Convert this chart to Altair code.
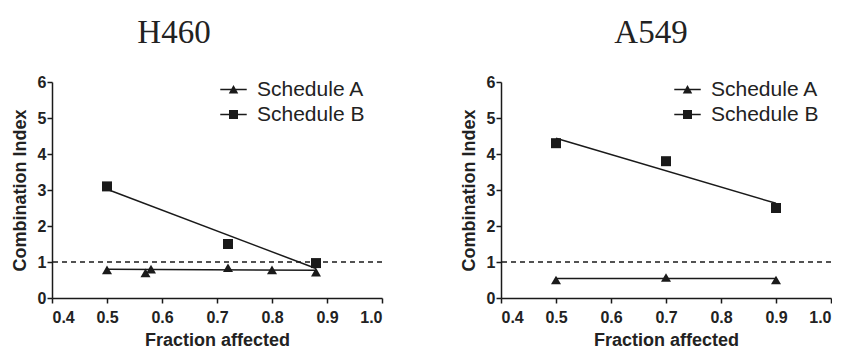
import altair as alt
import pandas as pd

# ---------------- data ----------------
series_names = ["Schedule A", "Schedule B"]
x_ticks = [0.4, 0.5, 0.6, 0.7, 0.8, 0.9, 1.0]
y_ticks = [0, 1, 2, 3, 4, 5, 6]
reference_ci = [1.0]

# H460
h460_a_x = [0.50, 0.57, 0.58, 0.72, 0.80, 0.88]
h460_a_y = [0.78, 0.70, 0.80, 0.84, 0.78, 0.72]
h460_b_x = [0.50, 0.72, 0.88]
h460_b_y = [3.10, 1.50, 0.97]
h460_fit_a_x = [0.50, 0.88]
h460_fit_a_y = [0.80, 0.77]
h460_fit_b_x = [0.50, 0.88]
h460_fit_b_y = [3.02, 0.82]

# A549
a549_a_x = [0.50, 0.70, 0.90]
a549_a_y = [0.50, 0.57, 0.50]
a549_b_x = [0.50, 0.70, 0.90]
a549_b_y = [4.30, 3.80, 2.50]
a549_fit_a_x = [0.50, 0.90]
a549_fit_a_y = [0.54, 0.54]
a549_fit_b_x = [0.50, 0.90]
a549_fit_b_y = [4.44, 2.63]

# legend symbols: short line with marker (all filled sub-paths)
legend_paths = [
    "M-1,-0.055H1V0.055H-1ZM-0.36,0.3L0,-0.34L0.36,0.3Z",
    "M-1,-0.055H1V0.055H-1ZM-0.34,-0.34H0.34V0.34H-0.34Z",
]
marker_shapes = ["triangle-up", "square"]

INK = "#1a1a1a"
LAB = "#222222"
SANS = "Liberation Sans"


def frame(xs_a, ys_a, xs_b, ys_b):
    return pd.concat([
        pd.DataFrame({"x": xs_a, "y": ys_a, "series": series_names[0]}),
        pd.DataFrame({"x": xs_b, "y": ys_b, "series": series_names[1]}),
    ], ignore_index=True)


x_axis = alt.Axis(values=x_ticks, format=".1f", title="Fraction affected",
                  labelFont=SANS, labelFontSize=16, labelFontWeight="bold",
                  labelColor=LAB, labelPadding=6, labelOverlap=False,
                  titleFont=SANS, titleFontSize=18, titleFontWeight="bold",
                  titleColor=LAB, titlePadding=6)
y_axis = alt.Axis(values=y_ticks, format="d", title="Combination Index",
                  labelFont=SANS, labelFontSize=16, labelFontWeight="bold",
                  labelColor=LAB, labelPadding=1, labelOverlap=False,
                  titleFont=SANS, titleFontSize=18, titleFontWeight="bold",
                  titleColor=LAB, titlePadding=8)
x_scale = alt.Scale(domain=[0.4, 1.0], nice=False, zero=False)
y_scale = alt.Scale(domain=[0, 6], nice=False)


def panel(title, pts, fit, title_dx, legend_x):
    x = alt.X("x:Q", scale=x_scale, axis=x_axis)
    y = alt.Y("y:Q", scale=y_scale, axis=y_axis)

    lines = alt.Chart(fit).mark_line(color=INK, strokeWidth=1.5).encode(
        x=x, y=y, detail="series:N")

    ref = alt.Chart(pd.DataFrame({"y": reference_ci})).mark_rule(
        color=INK, strokeWidth=1.5, strokeDash=[5, 4]
    ).encode(y=y)

    points = alt.Chart(pts).mark_point(filled=True, color=INK, size=100, opacity=1).encode(
        x=x, y=y,
        shape=alt.Shape("series:N",
                        scale=alt.Scale(domain=series_names, range=marker_shapes),
                        legend=None))

    leg = alt.Chart(pts).transform_filter("false").mark_point(
        filled=True, color=INK, opacity=1
    ).encode(
        x=x, y=y,
        shape=alt.Shape("series:N",
                        scale=alt.Scale(domain=series_names, range=legend_paths),
                        legend=alt.Legend(
                            title=None, orient="none", legendX=legend_x, legendY=-6,
                            symbolSize=700, symbolFillColor=INK, symbolOpacity=1,
                            symbolStrokeWidth=0,
                            labelFont=SANS, labelFontSize=21,
                            labelColor=LAB, labelOffset=10, rowPadding=1,
                            padding=0)))

    return alt.layer(lines, ref, points, leg).resolve_scale(shape="independent").properties(
        width=330, height=216,
        title=alt.TitleParams(title, font="Liberation Serif", fontSize=33,
                              fontWeight="normal", color=LAB, frame="group",
                              anchor="middle", dx=title_dx, offset=24),
    )


left = panel("H460", frame(h460_a_x, h460_a_y, h460_b_x, h460_b_y),
             frame(h460_fit_a_x, h460_fit_a_y, h460_fit_b_x, h460_fit_b_y), -43, 168)
right = panel("A549", frame(a549_a_x, a549_a_y, a549_b_x, a549_b_y),
              frame(a549_fit_a_x, a549_fit_a_y, a549_fit_b_x, a549_fit_b_y), -15, 173)

chart = alt.hconcat(left, right, spacing=77).properties(
    padding={"left": 3, "top": 9, "right": 0, "bottom": 0}
).configure_view(
    strokeWidth=0
).configure_axis(
    grid=False, domainColor=INK, domainWidth=1.5, tickColor=INK, tickWidth=1.5,
    tickSize=5,
)

chart.save("out.html", embed_options={"renderer": "svg", "actions": False})
